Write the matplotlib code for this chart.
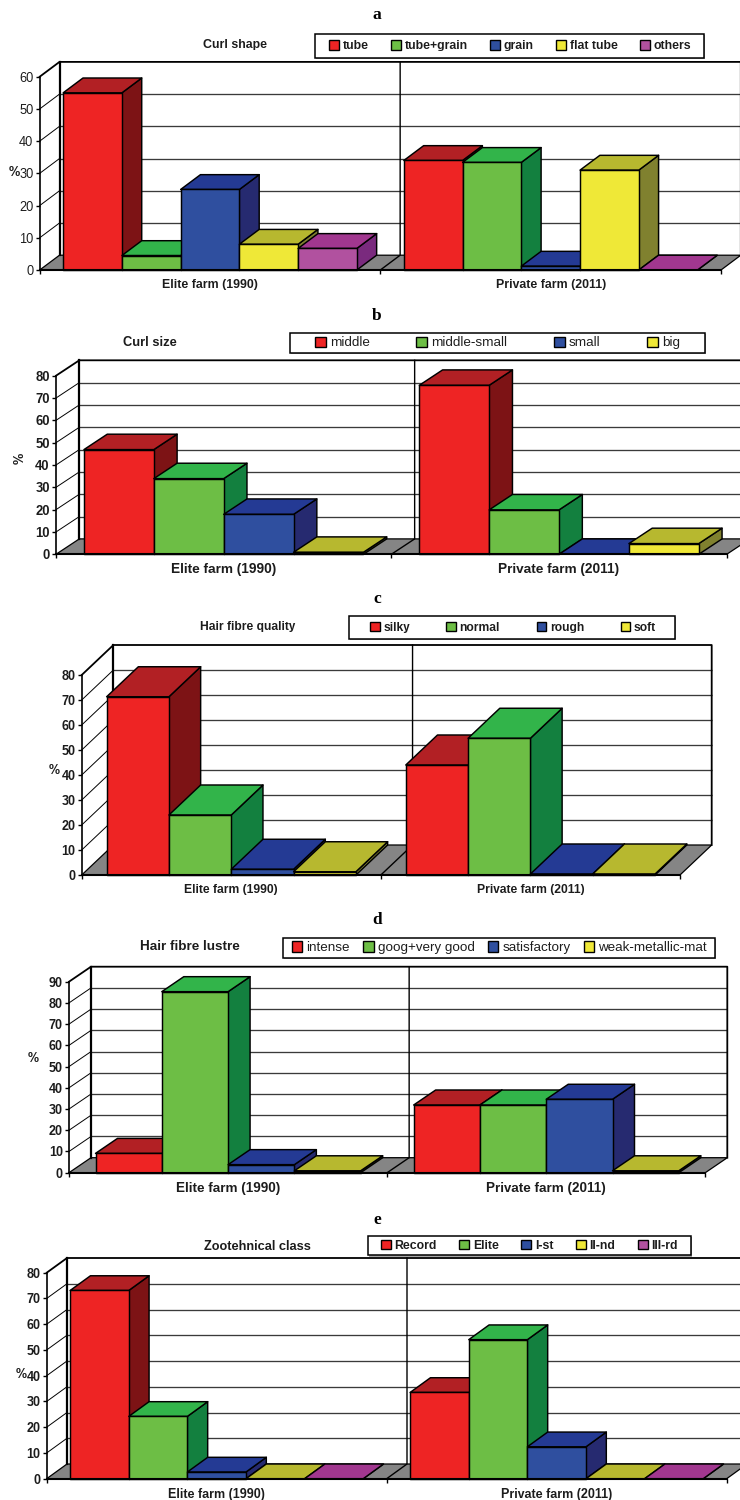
import matplotlib
matplotlib.use("Agg")
import matplotlib.pyplot as plt
from matplotlib.patches import Patch, Polygon, Rectangle

W, H = 740, 1500
plt.rcParams["font.family"] = ["Liberation Sans", "DejaVu Sans"]
plt.rcParams["text.hinting"] = "default"
plt.rcParams["text.hinting_factor"] = 8

GROUPS = ["Elite farm (1990)", "Private farm (2011)"]

SHAPE_LABELS = ["tube", "tube+grain", "grain", "flat tube", "others"]
SHAPE_ELITE = [55, 4.5, 25, 8, 6.7]
SHAPE_PRIVATE = [34, 33.4, 1.2, 31, 0]

SIZE_LABELS = ["middle", "middle-small", "small", "big"]
SIZE_ELITE = [46.9, 33.9, 17.9, 0.9]
SIZE_PRIVATE = [75.7, 19.9, 0, 4.8]

QUALITY_LABELS = ["silky", "normal", "rough", "soft"]
QUALITY_ELITE = [71.3, 24, 2.3, 1.3]
QUALITY_PRIVATE = [44, 54.7, 0.4, 0.4]

LUSTRE_LABELS = ["intense", "goog+very good", "satisfactory", "weak-metallic-mat"]
LUSTRE_ELITE = [9.1, 85.3, 3.8, 0.9]
LUSTRE_PRIVATE = [31.9, 31.9, 34.6, 0.9]

CLASS_LABELS = ["Record", "Elite", "I-st", "II-nd", "III-rd"]
CLASS_ELITE = [73.1, 24.2, 2.6, 0, 0]
CLASS_PRIVATE = [33.5, 54, 12.4, 0, 0]

# front, top and side shades for each series
FRONT = ["#EE2424", "#6DBE45", "#2F4F9F", "#EFE837", "#B1519F"]
TOP = ["#B22024", "#32B44A", "#243A94", "#B7B82F", "#A1378F"]
SIDE = ["#7D1315", "#13803F", "#262A70", "#80812F", "#7A2A7E"]
FLOOR = "#858585"
INK = "#1c1c1c"

PANELS = [
    dict(letter="a", letter_y=15, title="Curl shape", title_xy=(235, 44),
         labels=SHAPE_LABELS, elite=SHAPE_ELITE, private=SHAPE_PRIVATE, ymax=60,
         x0=39.7, x2=721, y0=270, ytop=76.7, dx=19.8, dy=14.8,
         box=(315, 33.5, 703.5, 58), inner=(329, 691), pct=(14, 172, 0),
         legend_weight="bold", legend_fs=8.8, tick_weight="normal", tick_fs=9.2,
         title_fs=8.9, xlabel_fs=8.9),
    dict(letter="b", letter_y=316, title="Curl size", title_xy=(150, 343),
         labels=SIZE_LABELS, elite=SIZE_ELITE, private=SIZE_PRIVATE, ymax=80,
         x0=56, x2=726.7, y0=554.3, ytop=375.7, dx=23.3, dy=15.4,
         box=(289.5, 332.7, 705, 353), inner=(315, 680), pct=(20, 458, 90),
         legend_weight="normal", legend_fs=9.6, tick_weight="bold", tick_fs=9.4,
         title_fs=9.3, xlabel_fs=9.8),
    dict(letter="c", letter_y=599, title="Hair fibre quality", title_xy=(248, 626),
         labels=QUALITY_LABELS, elite=QUALITY_ELITE, private=QUALITY_PRIVATE, ymax=80,
         x0=81.7, x2=680, y0=875, ytop=675, dx=31.7, dy=30,
         box=(349, 615.7, 675, 639), inner=(370, 656), pct=(54, 771, 0),
         legend_weight="bold", legend_fs=8.7, tick_weight="bold", tick_fs=9.0,
         title_fs=8.7, xlabel_fs=8.7),
    dict(letter="d", letter_y=920, title="Hair fibre lustre", title_xy=(190, 947),
         labels=LUSTRE_LABELS, elite=LUSTRE_ELITE, private=LUSTRE_PRIVATE, ymax=90,
         x0=69, x2=705.3, y0=1172.7, ytop=981.7, dx=22, dy=15,
         box=(282.7, 937.7, 715, 957.7), inner=(291.7, 707), pct=(33, 1058, 0),
         legend_weight="normal", legend_fs=9.7, tick_weight="bold", tick_fs=9.0,
         title_fs=9.7, xlabel_fs=9.7),
    dict(letter="e", letter_y=1220, title="Zootehnical class", title_xy=(257, 1246),
         labels=CLASS_LABELS, elite=CLASS_ELITE, private=CLASS_PRIVATE, ymax=80,
         x0=46.7, x2=726.7, y0=1478.7, ytop=1272.7, dx=20.3, dy=14.7,
         box=(367.7, 1235.7, 690.7, 1255.3), inner=(381, 678), pct=(21, 1374, 0),
         legend_weight="bold", legend_fs=8.8, tick_weight="bold", tick_fs=9.0,
         title_fs=9.2, xlabel_fs=9.0),
]

GAP = 0.4  # side gap around each bar cluster, in bar widths


def add_box(ax, left, width, value, depth_x, depth_y, i):
    """Draw one bar with its front, side and top faces in data units."""
    right = left + width
    style = dict(edgecolor="black", linewidth=1.05, clip_on=False, joinstyle="round", zorder=2)
    ax.add_patch(Polygon([(right, 0), (right + depth_x, depth_y),
                          (right + depth_x, value + depth_y), (right, value)],
                         facecolor=SIDE[i], **style))
    ax.add_patch(Polygon([(left, value), (right, value),
                          (right + depth_x, value + depth_y), (left + depth_x, value + depth_y)],
                         facecolor=TOP[i], **style))
    if value > 0:
        ax.add_patch(Rectangle((left, 0), width, value, facecolor=FRONT[i], **style))


def draw_panel(fig, p):
    ax = fig.add_axes([p["x0"] / W, 1 - p["y0"] / H,
                       (p["x2"] - p["x0"]) / W, (p["y0"] - p["ytop"]) / H])
    ax.patch.set_visible(False)
    ax.set_xlim(0, 2)
    ax.set_ylim(0, p["ymax"])
    for side in ("top", "right"):
        ax.spines[side].set_visible(False)
    ax.spines["left"].set_linewidth(1.2)
    ax.spines["bottom"].set_linewidth(1.5)

    # depth of the box expressed in data units
    depth_x = 2 * p["dx"] / (p["x2"] - p["x0"])
    depth_y = p["ymax"] * p["dy"] / (p["y0"] - p["ytop"])
    top = p["ymax"] + depth_y
    levels = list(range(0, p["ymax"] + 1, 10))

    # floor and back walls
    ax.add_patch(Polygon([(0, 0), (2, 0), (2 + depth_x, depth_y), (depth_x, depth_y)],
                         facecolor=FLOOR, edgecolor="black", linewidth=0.9, clip_on=False,
                         zorder=0.5))
    for v in levels[1:-1]:
        ax.plot([depth_x, 2 + depth_x], [v + depth_y, v + depth_y], color="#3a3a3a",
                lw=0.95, clip_on=False, zorder=1, solid_capstyle="butt")
        ax.plot([0, depth_x], [v, v + depth_y], color="black", lw=0.7, clip_on=False, zorder=1)
    wall = dict(color="black", clip_on=False, zorder=1.2)
    ax.plot([0, depth_x, 2 + depth_x, 2 + depth_x], [p["ymax"], top, top, depth_y], lw=1.3, **wall)
    ax.plot([depth_x, depth_x], [depth_y, top], lw=1.6, **wall)
    ax.plot([1, 1 + depth_x, 1 + depth_x], [0, depth_y, top], lw=1.0, **wall)

    # bars, left to right so each one overlaps the side of the previous
    n = len(p["labels"])
    width = 1 / (n + 2 * GAP)
    for g, values in enumerate((p["elite"], p["private"])):
        for i, value in enumerate(values):
            add_box(ax, g + (GAP + i) * width, width, value, depth_x, depth_y, i)

    # axes furniture
    ax.set_yticks(levels)
    ax.tick_params(axis="y", length=3, width=1.0, pad=1.5, labelsize=p["tick_fs"],
                   labelcolor=INK)
    for label in ax.get_yticklabels():
        label.set_fontweight(p["tick_weight"])
    ax.set_xticks([0, 1, 2])
    ax.set_xticklabels([])
    ax.set_xticks([0.5, 1.5], GROUPS, minor=True)
    ax.tick_params(axis="x", which="major", length=3.2, width=1.0)
    ax.tick_params(axis="x", which="minor", length=0, pad=6.5, labelsize=p["xlabel_fs"],
                   labelcolor=INK)
    for label in ax.get_xticklabels(minor=True):
        label.set_fontweight("bold")

    # percent sign next to the value axis
    px, py, rotation = p["pct"]
    ax.set_ylabel("%", rotation=rotation, fontweight="bold", fontsize=p["tick_fs"],
                  color=INK, ha="center", va="center")
    ax.yaxis.set_label_coords((px - p["x0"]) / (p["x2"] - p["x0"]),
                              (p["y0"] - py) / (p["y0"] - p["ytop"]))

    # titles
    fig.text(p["title_xy"][0] / W, 1 - p["title_xy"][1] / H, p["title"], ha="center",
             va="center", fontweight="bold", fontsize=p["title_fs"], color=INK)
    fig.text(377 / W, 1 - p["letter_y"] / H, p["letter"], ha="center", va="center",
             fontweight="bold", fontsize=12.5, family=["Liberation Serif", "DejaVu Serif"],
             color="black")

    # legend frame with its soft shadow, then the entries inside
    l, t, r, b = p["box"]
    shadow = Rectangle(((l + 1.2) / W, 1 - (b + 1.2) / H), (r - l) / W, (b - t) / H,
                       transform=fig.transFigure, facecolor="#a8a8a8", edgecolor="none")
    frame = Rectangle((l / W, 1 - b / H), (r - l) / W, (b - t) / H,
                      transform=fig.transFigure, facecolor="white", edgecolor="black",
                      linewidth=1.1)
    fig.add_artist(shadow)
    fig.add_artist(frame)
    handles = [Patch(facecolor=FRONT[i], edgecolor="black", linewidth=1.0, label=text)
               for i, text in enumerate(p["labels"])]
    in_l, in_r = p["inner"]
    fig.legend(handles=handles, loc="center left", ncol=n, mode="expand",
               bbox_to_anchor=(in_l / W, 1 - b / H, (in_r - in_l) / W, (b - t) / H),
               frameon=False, borderpad=0, borderaxespad=0, columnspacing=0.5,
               handlelength=0.8, handleheight=0.8, handletextpad=0.3,
               prop=dict(family="Liberation Sans", weight=p["legend_weight"],
                         size=p["legend_fs"]),
               labelcolor=INK)


fig = plt.figure(figsize=(W / 100, H / 100), dpi=100, facecolor="white")
for panel in PANELS:
    draw_panel(fig, panel)
fig.savefig("out.png", dpi=100, facecolor="white")
